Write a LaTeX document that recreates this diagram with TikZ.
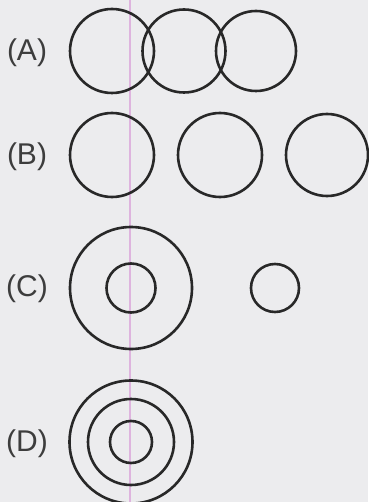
\documentclass[tikz,border=0pt]{standalone}
\usepackage{fontspec}
\setmainfont{Liberation Sans}
\definecolor{bg}{RGB}{236,236,238}
\definecolor{ink}{RGB}{40,40,40}
\definecolor{margin}{RGB}{222,180,222}
\begin{document}
\begin{tikzpicture}[x=1pt,y=-1pt,
  ring/.style={circle, draw=ink, line width=2.6pt, inner sep=0pt, minimum size=#1},
  lbl/.style={font=\fontsize{30}{36}\selectfont, text=ink!90, inner sep=0pt}]
\fill[bg] (0,0) rectangle (368,502);
\useasboundingbox (0,0) rectangle (368,502);
\draw[margin, line width=1.5pt] (130,0) -- (130,502);
% (A)
\node[lbl] (la) at (27,53) {(A)};
\node[ring=84] (a1) at (112,51) {};
\node[ring=83] (a2) at (184,51) {};
\node[ring=80] (a3) at (256,51) {};
% (B)
\node[lbl] (lb) at (27,157) {(B)};
\node[ring=84] (b1) at (112,155) {};
\node[ring=84] (b2) at (220,155) {};
\node[ring=82] (b3) at (327,155) {};
% (C)
\node[lbl] (lc) at (27,289) {(C)};
\node[ring=122] (c1) at (131,288) {};
\node[ring=49] (c2) at (131,288) {};
\node[ring=48] (c3) at (275,288) {};
% (D)
\node[lbl] (ld) at (27,444) {(D)};
\node[ring=123] (d1) at (131,442) {};
\node[ring=86] (d2) at (131,442) {};
\node[ring=42] (d3) at (131,442) {};
\end{tikzpicture}
\end{document}
